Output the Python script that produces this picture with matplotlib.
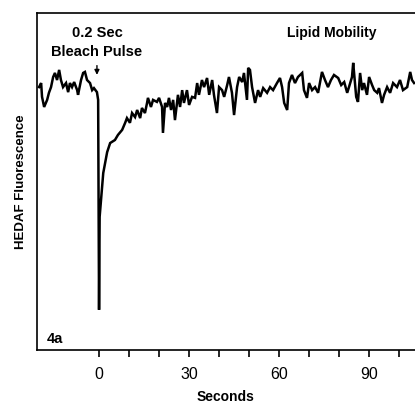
import matplotlib
matplotlib.use('Agg')
import matplotlib.pyplot as plt

# trace: seconds vs fluorescence (arbitrary units, 0-100 across the axis)
pre_t = [-20.0, -19.3, -19.0, -18.3, -17.3, -16.7, -16.0, -15.3, -14.7, -14.0,
         -13.3, -12.7, -12.0, -11.0, -10.3, -9.7, -9.0, -8.3, -7.3, -7.0,
         -6.0, -5.3, -4.7, -4.0, -3.0, -2.3, -1.7, -0.7, -0.3]
pre_f = [78.0, 79.2, 75.1, 72.1, 74.2, 76.3, 78.0, 81.0, 82.2, 80.1,
         83.1, 80.1, 78.0, 79.2, 76.5, 79.2, 78.0, 79.5, 77.1, 75.7,
         80.1, 82.2, 82.5, 80.1, 79.2, 77.1, 77.7, 76.5, 74.2]

bleach_t = [0.0, 0.2, 1.4, 2.7, 3.7, 5.3, 6.3, 7.7, 8.7, 9.3]
bleach_f = [11.9, 39.5, 52.5, 58.7, 61.4, 62.3, 63.8, 65.3, 67.4, 68.8]

rec_t = [10.3, 11.0, 12.0, 12.7, 13.7, 14.3, 15.3, 16.0, 16.3, 17.3,
         18.0, 19.3, 20.0, 21.0, 21.3, 22.0, 22.7, 23.3, 24.0, 24.7,
         25.3, 26.3, 27.0, 27.7, 28.3, 29.3, 30.0, 31.0, 32.0, 32.7,
         33.3, 34.3, 35.0, 36.0, 36.7, 37.7, 38.3, 39.3, 40.0, 41.0,
         41.7, 42.7, 43.3, 44.3, 45.0, 46.0, 46.7, 47.7, 48.3, 49.3,
         49.7, 50.3, 51.0, 52.0, 53.0, 53.7, 54.7, 56.0, 57.0, 58.0,
         59.3, 60.3, 61.0, 61.7, 62.7, 63.3, 64.3, 65.3, 66.3, 67.7,
         68.3, 69.3, 70.0, 71.0, 72.0, 73.0, 74.3, 75.3, 76.3, 77.3,
         78.3, 79.7, 80.7, 81.7, 82.7, 83.3, 84.3, 84.7, 85.7, 86.3,
         87.0, 87.7, 88.3, 89.3, 90.0, 91.0, 91.7, 92.7, 93.3, 94.3,
         95.0, 96.0, 97.0, 98.0, 99.3, 100.3, 101.3, 102.7, 103.7, 104.3,
         105.0]
rec_f = [67.4, 70.3, 69.1, 71.2, 68.8, 71.8, 70.3, 73.3, 74.8, 72.1,
         74.2, 73.6, 74.8, 72.1, 64.4, 73.3, 72.1, 74.8, 71.2, 74.2,
         68.2, 75.7, 72.1, 77.1, 73.3, 77.1, 72.7, 75.1, 74.8, 79.2,
         75.7, 80.1, 78.0, 80.7, 75.7, 80.1, 75.7, 70.3, 78.0, 77.1,
         75.1, 78.6, 81.0, 76.3, 69.7, 78.0, 81.0, 79.5, 82.2, 74.2,
         83.7, 83.1, 78.0, 73.3, 77.1, 75.1, 77.7, 76.3, 78.0, 77.1,
         79.2, 80.7, 78.0, 73.3, 71.2, 79.2, 81.6, 79.2, 81.0, 82.2,
         77.1, 74.8, 79.2, 77.1, 78.0, 76.3, 82.5, 80.1, 78.0, 80.1,
         81.6, 80.7, 78.6, 79.5, 76.3, 78.0, 81.0, 85.2, 75.1, 73.6,
         82.2, 77.1, 79.2, 75.7, 81.0, 78.6, 77.1, 76.3, 77.7, 73.3,
         75.7, 78.0, 76.3, 79.2, 78.0, 80.1, 77.1, 78.0, 82.5, 80.1,
         79.2]

seconds = pre_t + bleach_t + rec_t
fluor = pre_f + bleach_f + rec_f

major_ticks = [0, 30, 60, 90]
minor_ticks = [10, 20, 40, 50, 70, 80, 100]

fam = ['Liberation Sans', 'DejaVu Sans']

fig = plt.figure(figsize=(4.15, 4.05), dpi=100)
ax = fig.add_axes([0.089, 0.136, 0.911, 0.832])

ax.plot(seconds, fluor, color='black', lw=1.8, solid_joinstyle='miter')

ax.set_xlim(-20.7, 105.3)
ax.set_ylim(0, 100)

ax.spines['right'].set_visible(False)
for s in ['left', 'top', 'bottom']:
    ax.spines[s].set_linewidth(1.2)

ax.set_yticks([])
ax.set_xticks(major_ticks)
ax.set_xticks(minor_ticks, minor=True)
ax.set_xticklabels([str(t) for t in major_ticks], family=fam, fontsize=11.5)
ax.tick_params(axis='x', which='both', direction='out', length=5, width=1.2, pad=7)

ax.set_xlabel('Seconds', family=fam, fontsize=10, fontweight='bold', labelpad=6)
ax.set_ylabel('HEDAF Fluorescence', family=fam, fontsize=9.5, fontweight='bold', labelpad=7)

ax.text(-0.7, 94.0, '0.2 Sec', ha='center', va='center', family=fam, fontsize=10.5, fontweight='bold')
ax.text(-0.7, 88.4, 'Bleach Pulse', ha='center', va='center', family=fam, fontsize=10.5, fontweight='bold')
ax.annotate('', xy=(-0.7, 80.8), xytext=(-0.7, 85.2),
            arrowprops=dict(arrowstyle='-|>', color='black', lw=1, mutation_scale=7))
ax.text(77.7, 94.0, 'Lipid Mobility', ha='center', va='center', family=fam, fontsize=10, fontweight='bold')
ax.text(-17.3, 3.3, '4a', ha='left', va='center', family=fam, fontsize=10.5, fontweight='bold')

plt.savefig('out.png', dpi=100)
